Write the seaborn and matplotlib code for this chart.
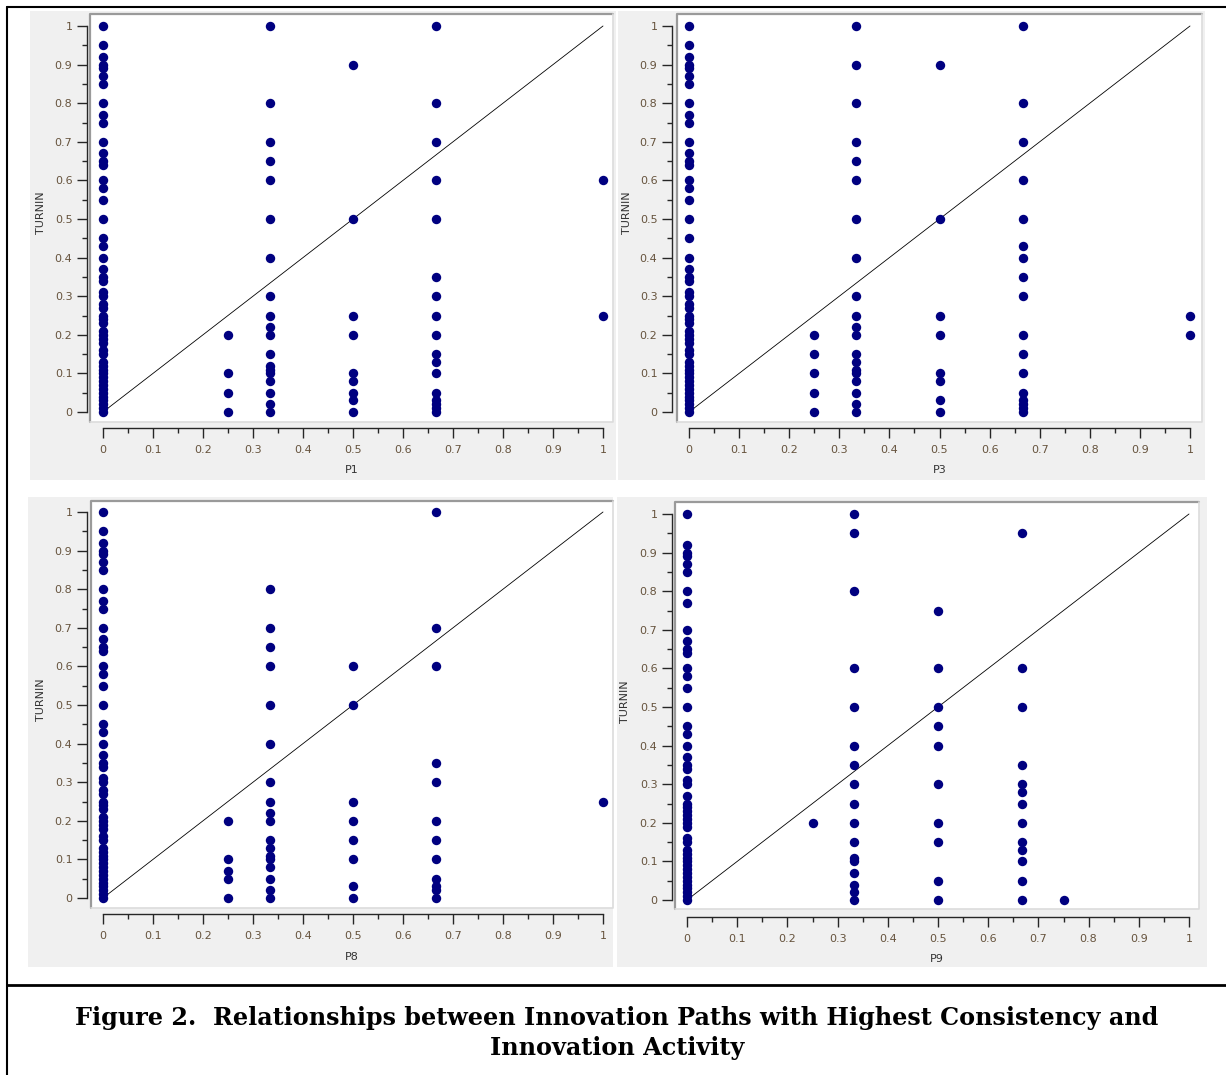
import numpy as np
import pandas as pd
import seaborn as sns
import matplotlib.pyplot as plt
from matplotlib.lines import Line2D
from matplotlib.patches import Rectangle
from matplotlib.ticker import MultipleLocator, FuncFormatter

P1_AT_0 = [1, 0.95, 0.92, 0.9, 0.89, 0.87, 0.85, 0.8, 0.77, 0.75, 0.7, 0.67, 0.65, 0.64,
           0.6, 0.58, 0.55, 0.5, 0.45, 0.43, 0.4, 0.37, 0.35, 0.34, 0.31, 0.3, 0.28, 0.27,
           0.25, 0.24, 0.23, 0.21, 0.2, 0.19, 0.18, 0.16, 0.15, 0.13, 0.12, 0.11, 0.1, 0.09,
           0.08, 0.07, 0.06, 0.05, 0.04, 0.03, 0.02, 0.01, 0]
P1_AT_025 = [0.2, 0.1, 0.05, 0]
P1_AT_033 = [1, 0.8, 0.7, 0.65, 0.6, 0.5, 0.4, 0.3, 0.25, 0.22, 0.2, 0.15, 0.12, 0.11, 0.1,
             0.08, 0.05, 0.02, 0]
P1_AT_05 = [0.9, 0.5, 0.25, 0.2, 0.1, 0.08, 0.05, 0.03, 0]
P1_AT_067 = [1, 0.8, 0.7, 0.6, 0.5, 0.35, 0.3, 0.25, 0.2, 0.15, 0.13, 0.1, 0.05, 0.03, 0.02,
             0.01, 0]
P1_AT_1 = [0.6, 0.25]

P3_AT_0 = [1, 0.95, 0.92, 0.9, 0.89, 0.87, 0.85, 0.8, 0.77, 0.75, 0.7, 0.67, 0.65, 0.64,
           0.6, 0.58, 0.55, 0.5, 0.45, 0.4, 0.37, 0.35, 0.34, 0.31, 0.3, 0.28, 0.27,
           0.25, 0.24, 0.23, 0.21, 0.2, 0.19, 0.18, 0.16, 0.15, 0.13, 0.12, 0.11, 0.1, 0.09,
           0.08, 0.07, 0.06, 0.05, 0.04, 0.03, 0.02, 0.01, 0]
P3_AT_025 = [0.2, 0.15, 0.1, 0.05, 0]
P3_AT_033 = [1, 0.9, 0.8, 0.7, 0.65, 0.6, 0.5, 0.4, 0.3, 0.25, 0.22, 0.2, 0.15, 0.13, 0.11,
             0.1, 0.08, 0.05, 0.02, 0]
P3_AT_05 = [0.9, 0.5, 0.25, 0.2, 0.1, 0.08, 0.03, 0]
P3_AT_067 = [1, 0.8, 0.7, 0.6, 0.5, 0.43, 0.4, 0.35, 0.3, 0.2, 0.15, 0.1, 0.05, 0.03, 0.02,
             0.01, 0]
P3_AT_1 = [0.25, 0.2]

P8_AT_0 = list(P1_AT_0)
P8_AT_025 = [0.2, 0.1, 0.07, 0.05, 0]
P8_AT_033 = [0.8, 0.7, 0.65, 0.6, 0.5, 0.4, 0.3, 0.25, 0.22, 0.2, 0.15, 0.13, 0.11, 0.1,
             0.08, 0.05, 0.02, 0]
P8_AT_05 = [0.6, 0.5, 0.25, 0.2, 0.15, 0.1, 0.03, 0]
P8_AT_067 = [1, 0.7, 0.6, 0.35, 0.3, 0.2, 0.15, 0.1, 0.05, 0.03, 0.02, 0]
P8_AT_1 = [0.25]

P9_AT_0 = [1, 0.92, 0.9, 0.89, 0.87, 0.85, 0.8, 0.77, 0.7, 0.67, 0.65, 0.64, 0.6, 0.58,
           0.55, 0.5, 0.45, 0.43, 0.4, 0.37, 0.35, 0.34, 0.31, 0.3, 0.27, 0.25, 0.24, 0.23,
           0.22, 0.21, 0.2, 0.19, 0.16, 0.15, 0.13, 0.12, 0.11, 0.1, 0.09, 0.08, 0.07, 0.06,
           0.05, 0.04, 0.03, 0.02, 0.01, 0]
P9_AT_025 = [0.2]
P9_AT_033 = [1, 0.95, 0.8, 0.6, 0.5, 0.4, 0.35, 0.3, 0.25, 0.2, 0.15, 0.11, 0.1, 0.07,
             0.04, 0.02, 0]
P9_AT_05 = [0.75, 0.6, 0.5, 0.45, 0.4, 0.3, 0.2, 0.15, 0.05, 0]
P9_AT_067 = [0.95, 0.6, 0.5, 0.35, 0.3, 0.28, 0.25, 0.2, 0.15, 0.13, 0.1, 0.05, 0]
P9_AT_075 = [0]

panels = {
    "P1": {0: P1_AT_0, 0.25: P1_AT_025, 1/3: P1_AT_033, 0.5: P1_AT_05, 2/3: P1_AT_067, 1: P1_AT_1},
    "P3": {0: P3_AT_0, 0.25: P3_AT_025, 1/3: P3_AT_033, 0.5: P3_AT_05, 2/3: P3_AT_067, 1: P3_AT_1},
    "P8": {0: P8_AT_0, 0.25: P8_AT_025, 1/3: P8_AT_033, 0.5: P8_AT_05, 2/3: P8_AT_067, 1: P8_AT_1},
    "P9": {0: P9_AT_0, 0.25: P9_AT_025, 1/3: P9_AT_033, 0.5: P9_AT_05, 2/3: P9_AT_067, 0.75: P9_AT_075},
}

# pixel layout of each panel: gray bg, white box, data anchors, axis lines, labels
layout = {
    "P1": dict(gray=(30, 11, 616, 480), box=(90, 14, 613, 422), x0=103, x1=603, y1=26, y0=412,
               yax=87, xax=428, ylab=(46, 213), xlab=465),
    "P3": dict(gray=(618, 11, 1205, 480), box=(677, 14, 1202, 422), x0=689, x1=1190, y1=26, y0=412,
               yax=672, xax=428, ylab=(632, 213), xlab=465),
    "P8": dict(gray=(28, 497, 613, 967), box=(91, 501, 613, 908), x0=103, x1=603, y1=512, y0=898,
               yax=87, xax=914, ylab=(46, 700), xlab=952),
    "P9": dict(gray=(617, 497, 1207, 967), box=(675, 502, 1199, 909), x0=687, x1=1189, y1=514, y0=900,
               yax=672, xax=917, ylab=(630, 702), xlab=954),
}

W, H = 1226, 1075
sns.set_style("white")
plt.rcParams['font.family'] = ['DejaVu Sans']

fig = plt.figure(figsize=(W / 100, H / 100), dpi=100)

def fx(px):
    return px / W

def fy(py):
    return 1 - py / H

axis_col = "#262626"
tick_col = "#66533d"

for name, cols in panels.items():
    lo = layout[name]
    gl, gt, gr, gb = lo["gray"]
    fig.patches.append(Rectangle((fx(gl), fy(gb)), fx(gr) - fx(gl), fy(gt) - fy(gb),
                                 transform=fig.transFigure, facecolor="#f0f0f0",
                                 edgecolor="none", zorder=-5))
    l, t, r, b = lo["box"]
    ax = fig.add_axes([fx(l), fy(b), fx(r) - fx(l), fy(t) - fy(b)])
    ax.set_zorder(2)
    ax.set_facecolor("white")

    df = pd.DataFrame([(x, y) for x, ys in cols.items() for y in ys], columns=["x", "y"])
    sns.scatterplot(data=df, x="x", y="y", ax=ax, color="#000080", s=46,
                    linewidth=0, zorder=3, clip_on=False)
    ax.plot([0, 1], [0, 1], color="black", lw=0.6, zorder=2)

    xs = lo["x1"] - lo["x0"]
    ys = lo["y0"] - lo["y1"]
    ax.set_xlim((l - lo["x0"]) / xs, (r - lo["x0"]) / xs)
    ax.set_ylim((lo["y0"] - b) / ys, (lo["y0"] - t) / ys)

    ax.spines["top"].set_visible(False)
    ax.spines["right"].set_visible(False)
    for s in ["left", "bottom"]:
        ax.spines[s].set_color(axis_col)
        ax.spines[s].set_linewidth(1.0)
        ax.spines[s].set_bounds(0, 1)
    ax.spines["left"].set_position(("outward", (l - lo["yax"]) * 0.72))
    ax.spines["bottom"].set_position(("outward", (lo["xax"] - b) * 0.72))

    for axis in [ax.xaxis, ax.yaxis]:
        axis.set_major_locator(MultipleLocator(0.1))
        axis.set_minor_locator(MultipleLocator(0.05))
        axis.set_major_formatter(FuncFormatter(lambda v, _: f"{round(v, 2):g}"))
    ax.tick_params(which="major", length=7, width=1.0, color=axis_col,
                   labelcolor=tick_col, labelsize=8, pad=3.5)
    ax.tick_params(which="minor", length=3.8, width=1.0, color=axis_col)
    ax.tick_params(axis="x", which="major", pad=5)
    ax.tick_params(left=True, bottom=True, which="both")

    # sunken frame around plotting area
    ax.add_line(Line2D([0, 0, 1], [0, 1, 1], transform=ax.transAxes, color="#9a9a9a",
                       lw=1.6, clip_on=False, zorder=5))
    ax.add_line(Line2D([0, 1, 1], [0, 0, 1], transform=ax.transAxes, color="#dcdcdc",
                       lw=1.2, clip_on=False, zorder=5))

    ax.set_xlabel(name, fontsize=8, color="#333333")
    ax.set_ylabel("TURNIN", fontsize=8, color="#333333")
    lx, ly = lo["ylab"]
    ax.yaxis.set_label_coords((lx - l) / (r - l), (b - ly) / (b - t))
    ax.xaxis.set_label_coords(0.5, (b - lo["xlab"]) / (b - t))
    ax.xaxis.label.set_va("top")

# outer frame of the figure box
for xs_, ys_, lw in [([7, W], [7, 7], 1.5), ([7, 7], [7, H], 1.5), ([7, W], [984.5, 984.5], 2.0)]:
    fig.add_artist(Line2D([fx(v) for v in xs_], [fy(v) for v in ys_], color="black", lw=lw))

fig.text(fx(617), fy(1018), "Figure 2.  Relationships between Innovation Paths with Highest Consistency and",
         ha="center", va="center", family="DejaVu Serif", fontweight="bold", fontsize=17.2,
         color="black")
fig.text(fx(617), fy(1048), "Innovation Activity",
         ha="center", va="center", family="DejaVu Serif", fontweight="bold", fontsize=17.2,
         color="black")

fig.savefig("out.png", dpi=100)
